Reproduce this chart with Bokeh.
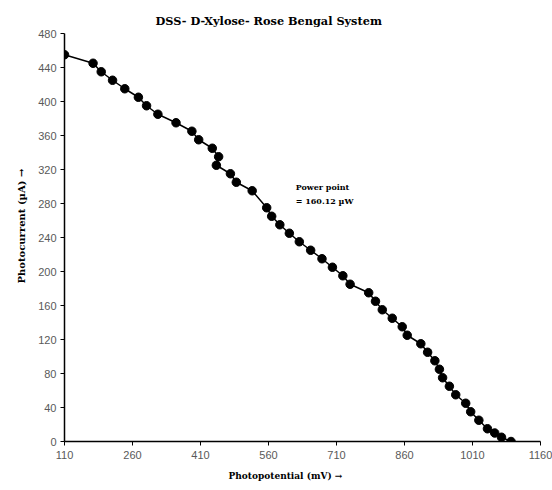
from bokeh.plotting import figure
from bokeh.models import Range1d, FixedTicker, Label, Title
from bokeh.embed import file_html
from bokeh.resources import INLINE

photopotential = [110, 173, 191, 216, 243, 273, 291, 316, 356, 391, 406, 436, 450, 445,
                  476, 489, 524, 556, 567, 585, 606, 628, 653, 678, 701, 724, 740,
                  781, 796, 811, 833, 855, 866, 896, 911, 927, 937, 944, 959, 973,
                  995, 1006, 1024, 1043, 1059, 1074, 1095]
photocurrent = [455, 445, 435, 425, 415, 405, 395, 385, 375, 365, 355, 345, 335, 325,
                315, 305, 295, 275, 265, 255, 245, 235, 225, 215, 205, 195, 185,
                175, 165, 155, 145, 135, 125, 115, 105, 95, 85, 75, 65, 55,
                45, 35, 25, 15, 10, 5, 0]
x_ticks = [110, 260, 410, 560, 710, 860, 1010, 1160]
y_ticks = [0, 40, 80, 120, 160, 200, 240, 280, 320, 360, 400, 440, 480]

title_text = "DSS- D-Xylose- Rose Bengal System"
x_title = "Photopotential (mV) \u2192"
y_title = "Photocurrent (\u00b5A) \u2192"
note_text = "Power point\n= 160.12 \u00b5W"

p = figure(width=552, height=490, output_backend="svg", toolbar_location=None,
           x_range=Range1d(x_ticks[0], x_ticks[-1]), y_range=Range1d(y_ticks[0], y_ticks[-1]),
           min_border_left=64, min_border_right=12, min_border_top=33, min_border_bottom=49)
p.outline_line_color = None
p.grid.visible = False
p.background_fill_color = "white"

for ax in (p.xaxis[0], p.yaxis[0]):
    ax.axis_line_color = "black"
    ax.axis_line_width = 1.5
    ax.major_tick_line_color = "black"
    ax.major_tick_line_width = 1
    ax.major_tick_out = 4
    ax.major_tick_in = 0
    ax.minor_tick_line_color = None
    ax.major_label_text_font = "Liberation Sans"
    ax.major_label_text_font_size = "11px"
    ax.major_label_text_color = "#595959"
p.xaxis[0].ticker = FixedTicker(ticks=x_ticks)
p.yaxis[0].ticker = FixedTicker(ticks=y_ticks)
p.xaxis[0].major_label_standoff = 5
p.yaxis[0].major_label_standoff = 4

p.line(photopotential, photocurrent, line_color="black", line_width=1.5)
p.scatter(photopotential, photocurrent, size=8.5, fill_color="black", line_color="black")

t = Title(text=title_text, text_font="DejaVu Serif", text_font_size="11.3px",
          text_font_style="bold", align="left", offset=91, standoff=11, text_color="black")
p.add_layout(t, "above")

xt = Title(text=x_title, text_font="DejaVu Serif", text_font_size="9px",
           text_font_style="bold", align="left", offset=164, standoff=15, text_color="black")
p.add_layout(xt, "below")
yt = Title(text=y_title, text_font="DejaVu Serif", text_font_size="10px",
           text_font_style="bold", align="left", offset=158, standoff=18, text_color="black")
p.add_layout(yt, "left")

p.add_layout(Label(x=620, y=305, text=note_text, text_font="DejaVu Serif",
                   text_font_size="8px", text_font_style="bold", text_align="left",
                   text_baseline="top", text_color="black", text_line_height=1.4))

open("out.html", "w").write(file_html(p, INLINE))
